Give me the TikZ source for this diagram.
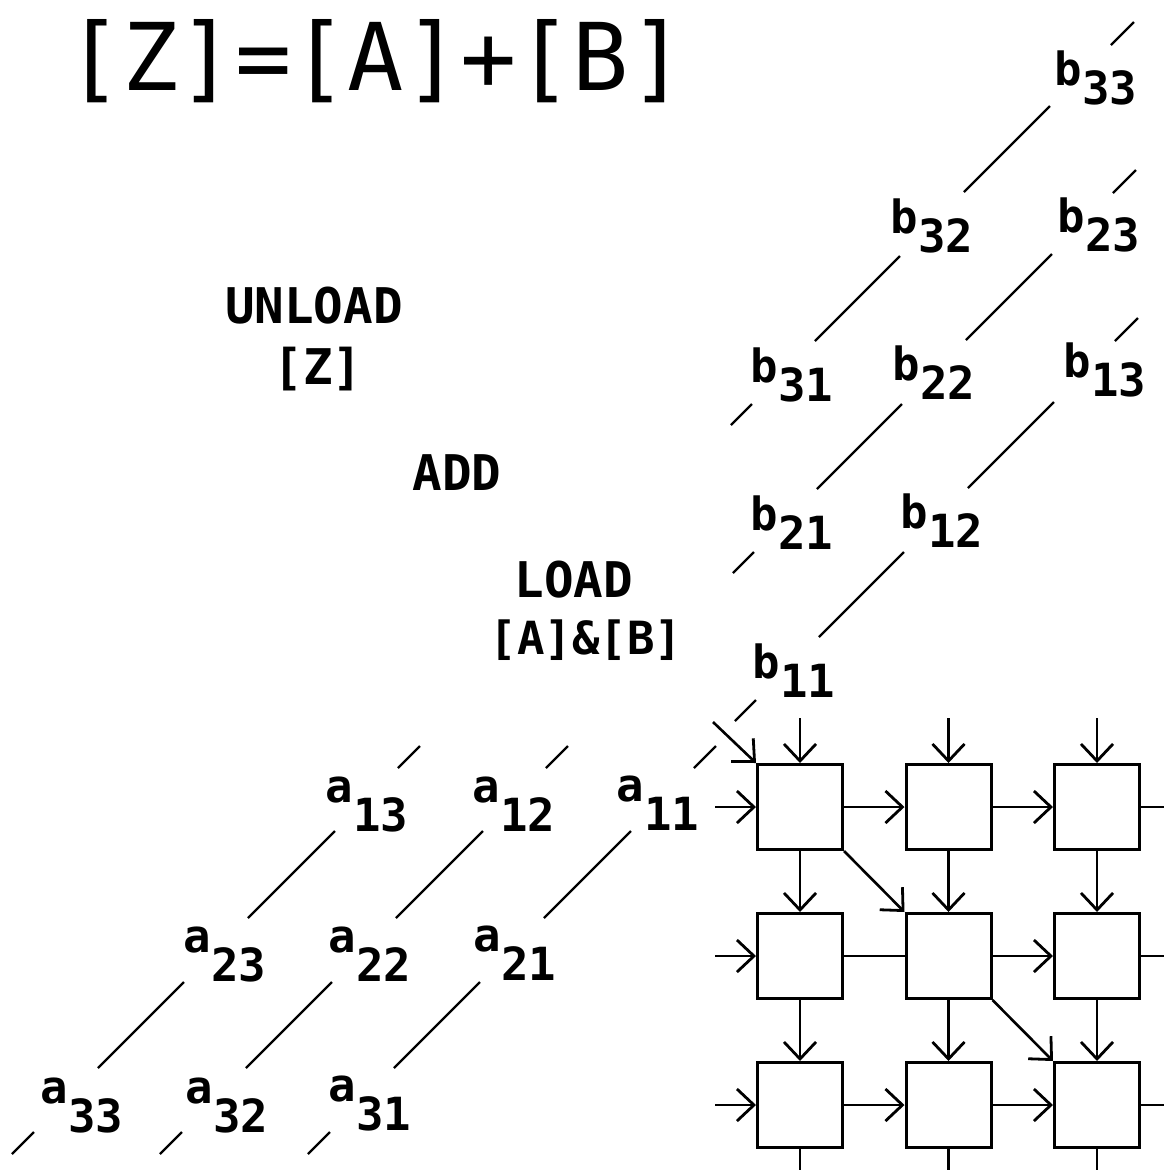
\documentclass[tikz,border=0pt]{standalone}
\usepackage{fontspec}
\setmonofont{DejaVu Sans Mono}
\usetikzlibrary{arrows.meta}

\tikzset{
  cell/.style={draw, line width=0.3mm, minimum size=8.5mm, inner sep=0pt},
  wire/.style={line width=0.26mm},
  flow/.style={wire, -{Straight Barb[length=1.7mm,width=3.2mm,line width=0.28mm]}},
  wave/.style={line width=0.24mm},
  elem/.style={font={\ttfamily\bfseries\fontsize{13}{15}\selectfont}, inner sep=0pt, anchor=base west},
  phase/.style={font={\ttfamily\bfseries\fontsize{14}{16}\selectfont}, inner sep=0pt, anchor=base},
  eqn/.style={font={\ttfamily\fontsize{26.6}{30}\selectfont}, inner sep=0pt, anchor=base}
}

\begin{document}
\begin{tikzpicture}[x=0.1mm, y=-0.1mm]
\useasboundingbox (0,0) rectangle (1165,1170);

% headline and the three phases
\node[eqn] (eq) at (376,90) {[Z]=[A]+[B]};
\node[phase] (unload) at (314,323) {UNLOAD};
\node[phase] (unloadz) at (318,384) {[Z]};
\node[phase] (add) at (457,490) {ADD};
\node[phase] (load) at (574,597) {LOAD};
\node[phase, font={\ttfamily\bfseries\fontsize{13}{15}\selectfont}] (loadab) at (586,654) {[A]\&[B]};

% 3x3 array of cells
\foreach \i in {1,2,3}
  \foreach \j in {1,2,3}
    \node[cell] (p\i\j) at ({800+148.5*(\j-1)}, {807+149*(\i-1)}) {};

% inputs from above and from the left, outputs to the right and below
\foreach \j in {1,2,3} {
  \path (p1\j.north) ++(0,-45) coordinate (bin\j);
  \draw[flow] (bin\j) -- (p1\j);
  \path (p3\j.south) ++(0,25) coordinate (bout\j);
  \draw[wire] (p3\j) -- (bout\j);
}
\foreach \i in {1,2,3} {
  \path (p\i1.west) ++(-41,0) coordinate (ain\i);
  \draw[flow] (ain\i) -- (p\i1);
  \path (p\i3.east) ++(23,0) coordinate (zout\i);
  \draw[wire] (p\i3) -- (zout\i);
}

% links between the cells
\foreach \src/\dst in {p11/p12, p12/p13, p22/p23, p31/p32, p32/p33,
                       p11/p21, p21/p31, p12/p22, p22/p32, p13/p23, p23/p33}
  \draw[flow] (\src) -- (\dst);
\draw[wire] (p21) -- (p22);
\draw[flow] (p11.south east) -- (p22.north west);
\draw[flow] (p22.south east) -- (p33.north west);
\coordinate (din) at (713,722);
\draw[flow] (din) -- (p11.north west);

% elements of [B] and [A]
\foreach \n/\x/\y in {33/1054/85, 32/890/233, 23/1057/232, 31/750/382, 22/892/380,
                      13/1063/377, 21/750/530, 12/900/528, 11/752/678}
  \node[elem] (b\n) at (\x,\y) {b\raisebox{-1.9mm}{\n}};
\foreach \n/\x/\y in {13/325/831, 12/472/831, 11/616/830, 23/183/981, 22/328/981,
                      21/473/980, 33/40/1132, 32/185/1132, 31/328/1130}
  \node[elem] (a\n) at (\x,\y) {\raisebox{2.9mm}{a}\n};

% wavefront strokes between the elements
\foreach \k in {0,1,2} {
  \pgfmathsetmacro\cb{1156+150*\k}
  \pgfmathsetmacro\yo{148*\k}
  \pgfmathsetmacro\ca{1166+148*\k}
  \foreach \ya/\yb in {22/45, 106/192, 256/341, 404/425}
    \draw[wave] ({\cb-\ya-\yo},{\ya+\yo}) -- ({\cb-\yb-\yo},{\yb+\yo});
  \foreach \ya/\yb in {746/768, 831/918, 982/1068, 1132/1154}
    \draw[wave] ({\ca-\ya},\ya) -- ({\ca-\yb},\yb);
}
\end{tikzpicture}
\end{document}
